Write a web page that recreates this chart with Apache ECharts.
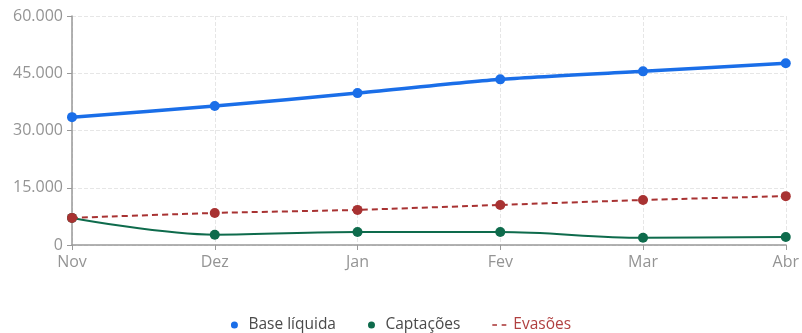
<!DOCTYPE html>
<html><head><meta charset="utf-8">
<script src="https://cdn.jsdelivr.net/npm/echarts@6/dist/echarts.min.js"></script>
<style>html,body{margin:0;padding:0;background:#fff}#c{width:802px;height:333px}</style>
</head><body><div id="c"></div>
<script>
const categories = ['Nov','Dez','Jan','Fev','Mar','Abr'];
const baseLiquida = [33500, 36400, 39800, 43400, 45500, 47600];
const captacoes = [7100, 2700, 3400, 3400, 1900, 2100];
const evasoes = [7100, 8400, 9200, 10500, 11800, 12800];
const yTicks = [0, 15000, 30000, 45000, 60000];

const fmt = v => v === 0 ? '0' : v.toLocaleString('de-DE');
const chart = echarts.init(document.getElementById('c'));
chart.setOption({
  animation: false,
  grid: {left: 72, right: 14, top: 16, bottom: 88},
  legend: {
    bottom: -5, left: 'center', itemGap: 32, itemWidth: 18, itemHeight: 7,
    textStyle: {fontFamily: 'Open Sans', fontSize: 15.5, color: '#4a4a4a'},
    data: [
      {name: 'Base líquida', icon: 'circle', itemStyle:{borderWidth:0}},
      {name: 'Captações', icon: 'circle', itemStyle:{borderWidth:0}},
      {name: 'Evasões', icon: 'path://M0,3h5v1.5h-5z M10,3h5v1.5h-5z M0,0h0.01v7.5h-0.01z', itemStyle:{borderWidth:0}, textStyle: {color: '#b04040'}}
    ]
  },
  xAxis: {
    type: 'category', data: categories, boundaryGap: false,
    axisLine: {lineStyle: {color: '#999', width: 1.5}},
    axisTick: {show: true, alignWithLabel: true, length: 5, lineStyle: {color: '#999'}},
    axisLabel: {color: '#949494', fontSize: 16, fontFamily: 'Open Sans', margin: 9},
    splitLine: {show: true, lineStyle: {color: '#e6e6e6', type: 'dashed'}}
  },
  yAxis: {
    type: 'value', min: yTicks[0], max: yTicks[yTicks.length-1], interval: 15000,
    axisLine: {show: true, lineStyle: {color: '#999', width: 1.5}},
    axisTick: {show: true, length: 5, lineStyle: {color: '#999'}},
    axisLabel: {color: '#949494', fontSize: 16, fontFamily: 'Open Sans', margin: 9, formatter: fmt},
    splitLine: {show: true, lineStyle: {color: '#e6e6e6', type: 'dashed'}}
  },
  series: [
    {name: 'Base líquida', type: 'line', data: baseLiquida, smooth: 0.2,
     symbol: 'circle', symbolSize: 10, color: '#1a6ee8',
     lineStyle: {width: 3.5}, z: 3},
    {name: 'Captações', type: 'line', data: captacoes, smooth: 0.35,
     symbol: 'circle', symbolSize: 10, color: '#0e6b4c',
     lineStyle: {width: 2}, z: 2},
    {name: 'Evasões', type: 'line', data: evasoes, smooth: 0.2,
     symbol: 'circle', symbolSize: 10, color: '#a83232',
     lineStyle: {width: 2, type: [6, 4]}, z: 4}
  ]
});
</script></body></html>
